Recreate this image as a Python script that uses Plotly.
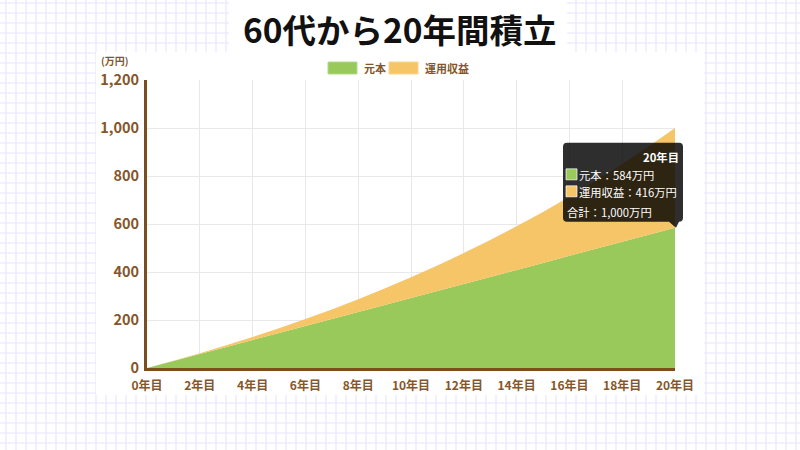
import plotly.graph_objects as go

# ---- data (万円) ----
years = list(range(21))
principal = [0, 29.2, 58.4, 87.6, 116.8, 146.0, 175.2, 204.4, 233.6, 262.8, 292.0,
             321.2, 350.4, 379.6, 408.8, 438.0, 467.2, 496.4, 525.6, 554.8, 584.0]
profit = [0, 0.7, 2.9, 6.7, 12.2, 19.5, 28.6, 39.7, 52.9, 68.2, 85.9,
          105.9, 128.4, 153.6, 181.5, 212.4, 246.4, 283.6, 324.1, 368.3, 416.0]
series_names = ["元本", "運用収益"]
x_tick_vals = [0, 2, 4, 6, 8, 10, 12, 14, 16, 18, 20]
x_tick_text = ["0年目", "2年目", "4年目", "6年目", "8年目", "10年目", "12年目",
               "14年目", "16年目", "18年目", "20年目"]
y_tick_vals = [0, 200, 400, 600, 800, 1000, 1200]
y_tick_text = ["0", "200", "400", "600", "800", "1,000", "1,200"]
title_text = "60代から20年間積立"
unit_text = "(万円)"

GREEN = "#98c95a"
ORANGE = "#f6c567"
BROWN = "#7d4d22"
LABEL = "#86562b"
FONT = "Noto Sans CJK JP"
W, H = 800, 450

X_RANGE = [0, 20]
Y_RANGE = [0, 1200]
px0, px1, py_top, py_bot = 147, 675, 80, 368
X_DOM = [px0 / W, px1 / W]
Y_DOM = [1 - py_bot / H, 1 - py_top / H]

fig = go.Figure()
fig.add_trace(go.Scatter(x=years, y=principal, name=series_names[0], stackgroup="one",
                         mode="none", fillcolor=GREEN, hoverinfo="skip"))
fig.add_trace(go.Scatter(x=years, y=profit, name=series_names[1], stackgroup="one",
                         mode="none", fillcolor=ORANGE, hoverinfo="skip"))

shapes = []
# graph-paper background
segs = []
for gx in range(6, W, 10):
    segs.append(f"M{gx/W:.5f},0 L{gx/W:.5f},1")
for gy in range(3, H, 10):
    yv = 1 - gy / H
    segs.append(f"M0,{yv:.5f} L1,{yv:.5f}")
shapes.append(dict(type="path", xref="paper", yref="paper", path=" ".join(segs),
                   line=dict(color="#efebff", width=1.6), layer="below"))
# white title box and white chart panel
shapes.append(dict(type="rect", xref="paper", yref="paper",
                   x0=229 / W, x1=567 / W, y0=1 - 53 / H, y1=1,
                   fillcolor="white", line=dict(width=0), layer="below"))
shapes.append(dict(type="rect", xref="paper", yref="paper",
                   x0=96 / W, x1=704 / W, y0=1 - 395 / H, y1=1 - 52 / H,
                   fillcolor="white", line=dict(width=0), layer="below"))

# custom legend
leg_items = [(328, 357, GREEN, "#b3d98a", 362), (389, 418, ORANGE, "#f8d48f", 423)]
annotations = []
for (lx0, lx1, col, bcol, tx), name in zip(leg_items, series_names):
    shapes.append(dict(type="rect", xref="paper", yref="paper",
                       x0=lx0 / W, x1=lx1 / W, y0=1 - 74 / H, y1=1 - 62 / H,
                       fillcolor=col, line=dict(color=bcol, width=1)))
    annotations.append(dict(xref="paper", yref="paper", x=tx / W, y=1 - 68 / H,
                            xanchor="left", yanchor="middle", showarrow=False,
                            text=name, font=dict(family=FONT, size=11, color=LABEL, weight="bold")))

# title and unit
annotations.append(dict(xref="paper", yref="paper", x=0.5, y=1 - 29 / H, xanchor="center",
                        yanchor="middle", showarrow=False, text=f"<b>{title_text}</b>",
                        font=dict(family=FONT, size=33.5, color="#111111")))
annotations.append(dict(xref="paper", yref="paper", x=99 / W, y=1 - 61 / H, xanchor="left",
                        yanchor="middle", showarrow=False, text=unit_text,
                        font=dict(family=FONT, size=10, color=LABEL, weight="bold")))

# tooltip at last point (anchored via axis mapping, in paper space so it is not clipped)
ax, ay = years[-1], principal[-1]
total = principal[-1] + profit[-1]
ax_p = X_DOM[0] + (ax - X_RANGE[0]) / (X_RANGE[1] - X_RANGE[0]) * (X_DOM[1] - X_DOM[0])
ay_p = Y_DOM[0] + (ay - Y_RANGE[0]) / (Y_RANGE[1] - Y_RANGE[0]) * (Y_DOM[1] - Y_DOM[0])
tip_path = ("M -108,6 L -6,6 L 1,0 L 4,6 Q 8,6 8,10 L 8,81 Q 8,85 4,85 "
            "L -108,85 Q -112,85 -112,81 L -112,10 Q -112,6 -108,6 Z")
shapes.append(dict(type="path", xref="paper", yref="paper", xsizemode="pixel", ysizemode="pixel",
                   xanchor=ax_p, yanchor=ay_p, path=tip_path,
                   fillcolor="rgba(0,0,0,0.82)", line=dict(width=0)))
for (sy0, sy1), col in zip([(48, 59), (31, 42)], [GREEN, ORANGE]):
    shapes.append(dict(type="rect", xref="paper", yref="paper", xsizemode="pixel",
                       ysizemode="pixel", xanchor=ax_p, yanchor=ay_p,
                       x0=-109, x1=-98, y0=sy0, y1=sy1,
                       fillcolor=col, line=dict(color="rgba(255,255,255,0.7)", width=1)))
tip_font = dict(family=FONT, size=11.3, color="white")
tip = dict(x=ax_p, y=ay_p, xref="paper", yref="paper", showarrow=False, yanchor="middle")
annotations.append(dict(tip, xanchor="right", xshift=6, yshift=71,
                        text=f"<b>{x_tick_text[-1]}</b>", font=tip_font))
annotations.append(dict(tip, xanchor="left", xshift=-98, yshift=53,
                        text=f"{series_names[0]}：{principal[-1]:,.0f}万円", font=tip_font))
annotations.append(dict(tip, xanchor="left", xshift=-98, yshift=36,
                        text=f"{series_names[1]}：{profit[-1]:,.0f}万円", font=tip_font))
annotations.append(dict(tip, xanchor="left", xshift=-110, yshift=16,
                        text=f"合計：{total:,.0f}万円", font=tip_font))

fig.update_layout(
    width=W, height=H, margin=dict(l=0, r=0, t=0, b=0, pad=0, autoexpand=False),
    paper_bgcolor="white", plot_bgcolor="white", showlegend=False,
    font=dict(family=FONT),
    shapes=shapes, annotations=annotations,
    xaxis=dict(domain=X_DOM, range=X_RANGE, tickvals=x_tick_vals,
               ticktext=x_tick_text, showgrid=True, gridcolor="#e8e8e8", gridwidth=1,
               showline=True, linecolor=BROWN, linewidth=3, zeroline=False,
               ticks="", ticklabelstandoff=5, automargin=False,
               tickfont=dict(family=FONT, size=12, color=LABEL, weight="bold")),
    yaxis=dict(domain=Y_DOM, range=Y_RANGE,
               tickvals=y_tick_vals, ticktext=y_tick_text, showgrid=True,
               gridcolor="#e8e8e8", gridwidth=1, showline=True, linecolor=BROWN,
               linewidth=3, zeroline=False, ticks="", ticklabelstandoff=2, automargin=False,
               tickfont=dict(family=FONT, size=14.5, color=LABEL, weight="bold")),
)

fig.write_html("out.html")
